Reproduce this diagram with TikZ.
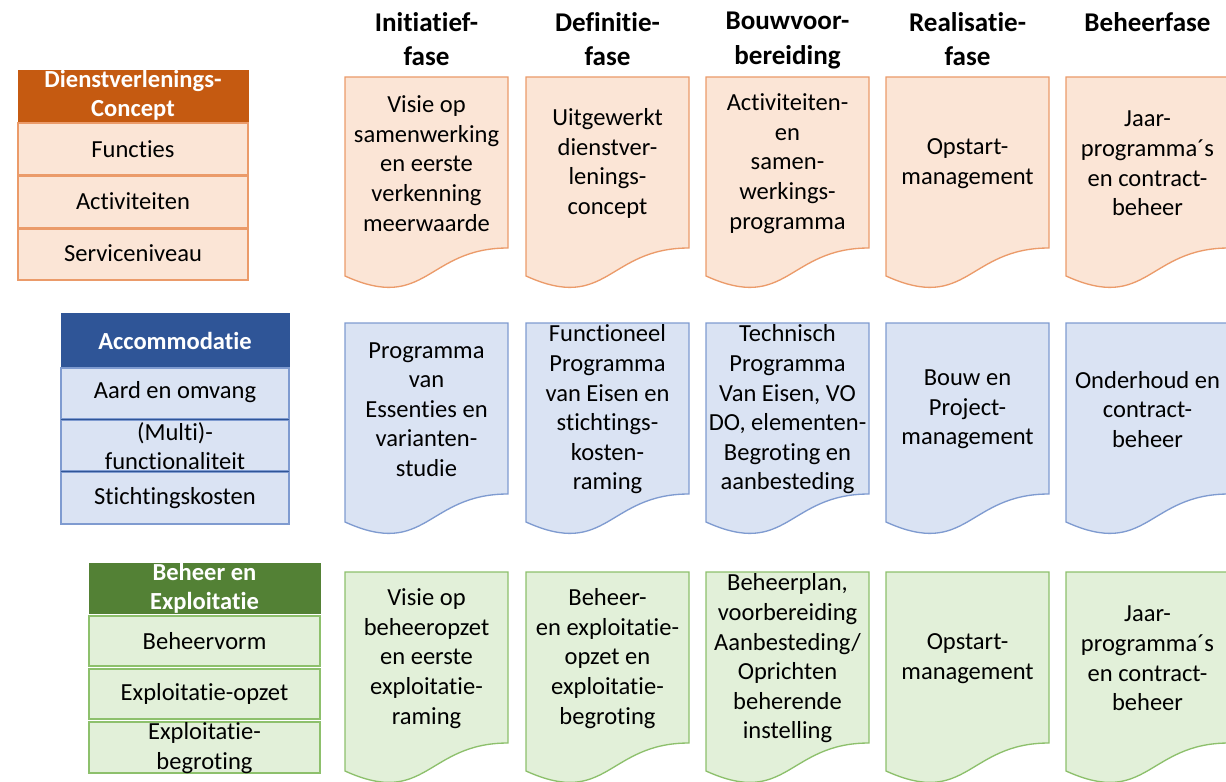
\documentclass[tikz,border=0pt]{standalone}
\usepackage{fontspec}
\setmainfont{Carlito}[Ligatures=NoCommon]
\definecolor{ordark}{HTML}{C55A11}
\definecolor{orfill}{HTML}{FBE5D6}
\definecolor{orline}{HTML}{EB9B6A}
\definecolor{bldark}{HTML}{2F5597}
\definecolor{blfill}{HTML}{DAE3F3}
\definecolor{blline}{HTML}{7F9BD0}
\definecolor{grdark}{HTML}{538135}
\definecolor{grfill}{HTML}{E2F0D9}
\definecolor{grline}{HTML}{8DC06C}
\tikzset{
  orbox/.style={fill=orfill,draw=orline,line width=1pt},
  blbox/.style={fill=blfill,draw=blline,line width=1pt},
  grbox/.style={fill=grfill,draw=grline,line width=1pt},
  phasetitle/.style={anchor=north,align=center,font=\fontsize{20.3}{26}\selectfont\bfseries},
  doctext/.style={align=center,font=\fontsize{18.4}{22.2}\selectfont},
  boxtitle/.style={align=center,text=white,font=\fontsize{18.4}{22}\selectfont\bfseries},
}
%% document shape: name, left, top, style, text
\newcommand\phasedoc[5]{%
  \filldraw[#4] (#2,#3) -- (#2+163,#3) -- (#2+163,#3+171)
    .. controls (#2+81.5,#3+171) and (#2+81.5,#3+236) .. (#2,#3+199) -- cycle;
  \node[doctext] (#1) at (#2+81.5,#3+86.5) {#5};}
\begin{document}
\begin{tikzpicture}[x=0.75pt,y=-0.75pt]
        \useasboundingbox (0,0) rectangle (1226,781);
        \clip (0,0) rectangle (1226,781);
        %% Phase titles
        \node[phasetitle] (initiatief) at (426.5,7.5) {Initiatief-\\fase};
        \node[phasetitle] (definitie) at (607.5,7.5) {Definitie-\\fase};
        \node[phasetitle] (bouwvoor) at (787.5,7.5) {Bouwvoor-\\bereiding};
        \node[phasetitle] (realisatie) at (967.5,7.5) {Realisatie-\\fase};
        \node[phasetitle] (beheerfase) at (1147.5,7.5) {Beheerfase};
        %% Dienstverleningsconcept
        \filldraw[fill=ordark,draw=ordark] (18,70) rectangle (248,123);
        \node[boxtitle] (dvconcept) at (133,95) {Dienstverlenings-\\Concept};
        \filldraw[orbox] (18,123) rectangle (248,175);
        \node[doctext] (functies) at (133,149) {Functies};
        \filldraw[orbox] (18,176) rectangle (248,228);
        \node[doctext] (activiteiten) at (133,201) {Activiteiten};
        \filldraw[orbox] (18,229) rectangle (248,280);
        \node[doctext] (serviceniveau) at (133,253) {Serviceniveau};
        \phasedoc{or1}{345}{77}{orbox}{Visie op\\samenwerking\\en eerste\\verkenning\\meerwaarde}
        \phasedoc{or2}{526}{77}{orbox}{Uitgewerkt\\dienstver-\\lenings-\\concept}
        \phasedoc{or3}{706}{77}{orbox}{Activiteiten-\\en\\samen-\\werkings-\\programma}
        \phasedoc{or4}{886}{77}{orbox}{Opstart-\\management}
        \phasedoc{or5}{1066}{77}{orbox}{Jaar-\\programma´s\\en contract-\\beheer}
        %% Accommodatie
        \filldraw[fill=bldark,draw=bldark] (61,313) rectangle (289,368);
        \node[boxtitle] (accommodatie) at (175,340.5) {Accommodatie};
        \filldraw[blbox] (61,368) rectangle (289,419);
        \node[doctext] (aard) at (175,392) {Aard en omvang};
        \filldraw[blbox] (61,420) rectangle (289,471);
        \node[doctext] (multi) at (175,446) {(Multi)-\\functionaliteit};
        \filldraw[blbox] (61,472) rectangle (289,524);
        \node[doctext] (stichting) at (175,498) {Stichtingskosten};
        \draw[bldark,line width=1pt] (61,419.5) -- (289,419.5) (61,471.5) -- (289,471.5);
        \phasedoc{bl1}{345}{323}{blbox}{Programma\\van\\Essenties en\\varianten-\\studie}
        \phasedoc{bl2}{526}{323}{blbox}{Functioneel\\Programma\\van Eisen en\\stichtings-\\kosten-\\raming}
        \phasedoc{bl3}{706}{323}{blbox}{Technisch\\Programma\\Van Eisen, VO\\DO, elementen-\\Begroting en\\aanbesteding}
        \phasedoc{bl4}{886}{323}{blbox}{Bouw en\\Project-\\management}
        \phasedoc{bl5}{1066}{323}{blbox}{Onderhoud en\\contract-\\beheer}
        %% Beheer en Exploitatie
        \filldraw[fill=grdark,draw=grdark] (89,563) rectangle (320,613);
        \node[boxtitle] (beheerexpl) at (204.5,588.5) {Beheer en\\Exploitatie};
        \filldraw[grbox] (89,616) rectangle (320,666);
        \node[doctext] (beheervorm) at (204.5,641) {Beheervorm};
        \filldraw[grbox] (89,669) rectangle (320,719);
        \node[doctext] (explopzet) at (204.5,694) {Exploitatie-opzet};
        \filldraw[grbox] (89,722) rectangle (320,773);
        \node[doctext] (explbegr) at (204.5,748) {Exploitatie-\\begroting};
        \phasedoc{gr1}{345}{572}{grbox}{Visie op\\beheeropzet\\en eerste\\exploitatie-\\raming}
        \phasedoc{gr2}{526}{572}{grbox}{Beheer-\\en exploitatie-\\opzet en\\exploitatie-\\begroting}
        \phasedoc{gr3}{706}{572}{grbox}{Beheerplan,\\voorbereiding\\Aanbesteding/\\Oprichten\\beherende\\instelling}
        \phasedoc{gr4}{886}{572}{grbox}{Opstart-\\management}
        \phasedoc{gr5}{1066}{572}{grbox}{Jaar-\\programma´s\\en contract-\\beheer}
    \end{tikzpicture}
\end{document}
